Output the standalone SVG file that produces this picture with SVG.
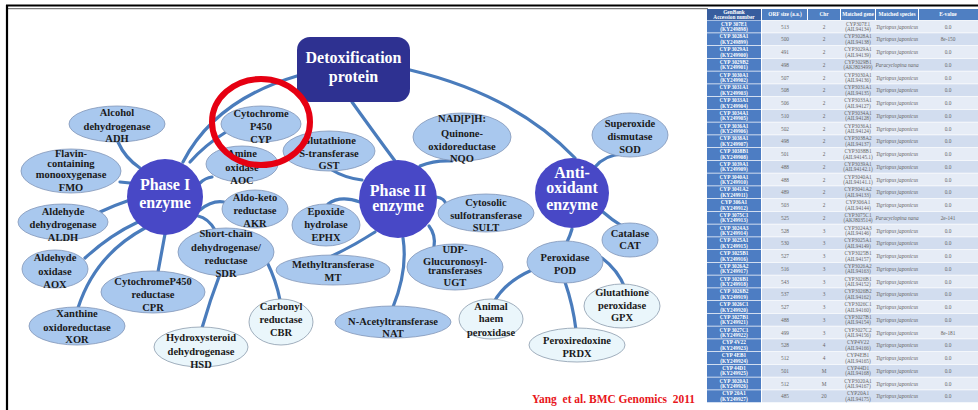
<svg xmlns="http://www.w3.org/2000/svg" width="978" height="410" viewBox="0 0 978 410">
<style>
.e{fill:#a9c8ee;stroke:#8196b8;stroke-width:0.8}
.l{fill:#eaf6fb;stroke:#8a9aac;stroke-width:0.8}
.t{font-family:"Liberation Serif",serif;font-weight:bold;font-size:10.5px;fill:#1a1a1a;text-anchor:middle}
.big{font-family:"Liberation Serif",serif;font-weight:bold;font-size:16px;fill:#ffffff;text-anchor:middle}
.c{fill:#4848c6}
#connectors path{fill:none;stroke:#4a7cbc;stroke-width:3.2;stroke-linecap:round}
.h1{fill:#375d9e}
.h2{fill:#4f7fc2}
.k{fill:#4d7dc3}
.ra{fill:#e6ecf6}
.rb{fill:#d2ddef}
.tw{font-family:"Liberation Serif",serif;font-weight:bold;font-size:5.3px;fill:#ffffff;text-anchor:middle}
.tg{font-family:"Liberation Serif",serif;font-size:5.3px;fill:#666;text-anchor:middle}
.ti{font-family:"Liberation Serif",serif;font-style:italic;font-size:5.3px;fill:#666;text-anchor:middle}
</style>
<rect width="978" height="410" fill="#ffffff"/>
<!-- frame -->
<line x1="6" y1="5.5" x2="978" y2="5.5" stroke="#000" stroke-width="2.2"/>
<line x1="8" y1="8.7" x2="708" y2="8.7" stroke="#333" stroke-width="0.8"/>
<line x1="7" y1="5" x2="7" y2="410" stroke="#000" stroke-width="2.2"/>

<g id="connectors">
<path d="M297,76 Q215,100 183,162"/>
<path d="M226,132 Q205,145 190,162"/>
<path d="M352,102 Q372,130 395,161"/>
<path d="M410,70 Q515,95 575,158"/>
<path d="M118,142 Q125,158 140,168"/>
<path d="M120,182 L130,183"/>
<path d="M100,212 Q115,205 130,200"/>
<path d="M85,258 Q110,235 138,222"/>
<path d="M78,308 Q95,255 145,228"/>
<path d="M158,272 Q162,250 165,234"/>
<path d="M200,210 Q212,200 224,202"/>
<path d="M198,216 Q208,218 215,230"/>
<path d="M200,183 Q205,178 212,177"/>
<path d="M220,274 Q210,300 202,328"/>
<path d="M267,262 Q276,280 280,300"/>
<path d="M332,170 Q345,178 362,180"/>
<path d="M420,166 Q435,160 452,161"/>
<path d="M328,204 Q340,195 360,202"/>
<path d="M436,197 Q445,198 446,205"/>
<path d="M375,232 Q355,245 332,256"/>
<path d="M403,238 Q408,270 393,307"/>
<path d="M429,226 Q436,235 434,247"/>
<path d="M595,167 Q605,155 622,154"/>
<path d="M603,212 Q612,220 622,226"/>
<path d="M572,229 Q570,236 567,242"/>
<path d="M532,270 Q505,282 494,302"/>
<path d="M565,282 Q573,305 576,330"/>
<path d="M602,258 Q618,270 625,288"/>
</g>

<g id="detox"><rect x="297" y="37" width="113" height="65" rx="13" fill="#2e3191"/>
<text class="big" x="353.5" y="63">Detoxification</text><text class="big" x="353.5" y="82">protein</text></g>
<g id="phase1"><circle class="c" cx="165" cy="197" r="38"/>
<text class="big" x="165" y="190">Phase I</text><text class="big" x="165" y="207.5">enzyme</text></g>
<g id="phase2"><circle class="c" cx="398" cy="199" r="39"/>
<text class="big" x="398" y="195.5">Phase II</text><text class="big" x="398" y="211">enzyme</text></g>
<g id="antioxidant"><ellipse class="c" cx="572" cy="193" rx="37" ry="35"/>
<text class="big" x="572" y="177.5">Anti-</text><text class="big" x="572" y="193">oxidant</text><text class="big" x="572" y="210">enzyme</text></g>

<g id="adh"><ellipse class="e" cx="117" cy="124" rx="48" ry="18"/>
<text class="t" x="117" y="115.5">Alcohol</text><text class="t" x="117" y="129.5">dehydrogenase</text><text class="t" x="117" y="141.5">ADH</text></g>
<g id="aoc"><ellipse class="e" cx="242" cy="164" rx="36" ry="18"/>
<text class="t" x="242" y="156.5">Amine</text><text class="t" x="242" y="170.5">oxidase</text><text class="t" x="242" y="183.5">AOC</text></g>
<g id="gst"><ellipse class="e" cx="329" cy="151" rx="46" ry="20"/>
<text class="t" x="329" y="143.5">Glutathione</text><text class="t" x="329" y="156.5">S-transferase</text><text class="t" x="329" y="168.5">GST</text></g>
<g id="cyp"><ellipse class="e" cx="261" cy="124" rx="40" ry="18"/>
<text class="t" x="261" y="116.5">Cytochrome</text><text class="t" x="261" y="129.5">P450</text><text class="t" x="261" y="142.5">CYP</text></g>
<g id="fmo"><ellipse class="e" cx="71" cy="171" rx="50" ry="22"/>
<text class="t" x="71" y="157">Flavin-</text><text class="t" x="71" y="166.5">containing</text><text class="t" x="71" y="178">monooxygenase</text><text class="t" x="71" y="190.5">FMO</text></g>
<g id="nqo"><ellipse class="e" cx="462" cy="137" rx="49" ry="24"/>
<text class="t" x="462" y="121.5">NAD[P]H:</text><text class="t" x="462" y="136.5">Quinone-</text><text class="t" x="462" y="149.5">oxidoreductase</text><text class="t" x="462" y="161.5">NQO</text></g>
<g id="sod"><ellipse class="e" cx="630" cy="135" rx="38" ry="22"/>
<text class="t" x="630" y="126.5">Superoxide</text><text class="t" x="630" y="139.5">dismutase</text><text class="t" x="630" y="152.5">SOD</text></g>
<g id="akr"><ellipse class="e" cx="255" cy="209" rx="33" ry="19"/>
<text class="t" x="255" y="200.5">Aldo-keto</text><text class="t" x="255" y="213.5">reductase</text><text class="t" x="255" y="226.5">AKR</text></g>
<g id="aldh"><ellipse class="e" cx="63" cy="222" rx="45" ry="18"/>
<text class="t" x="63" y="214.5">Aldehyde</text><text class="t" x="63" y="227.5">dehydrogenase</text><text class="t" x="63" y="240.5">ALDH</text></g>
<g id="aox"><ellipse class="e" cx="55" cy="269" rx="33" ry="19"/>
<text class="t" x="55" y="260.5">Aldehyde</text><text class="t" x="55" y="274.5">oxidase</text><text class="t" x="55" y="287.5">AOX</text></g>
<g id="sdr"><ellipse class="e" cx="226" cy="252" rx="48" ry="24"/>
<text class="t" x="226" y="236.5">Short-chain</text><text class="t" x="226" y="250.5">dehydrogenase/</text><text class="t" x="226" y="263.5">reductase</text><text class="t" x="226" y="276.5">SDR</text></g>
<g id="cpr"><ellipse class="e" cx="153" cy="292" rx="52" ry="21"/>
<text class="t" x="153" y="284.5">CytochromeP450</text><text class="t" x="153" y="297.5">reductase</text><text class="t" x="153" y="310.5">CPR</text></g>
<g id="xor"><ellipse class="e" cx="77" cy="326" rx="48" ry="19"/>
<text class="t" x="77" y="316.5">Xanthine</text><text class="t" x="77" y="330.5">oxidoreductase</text><text class="t" x="77" y="342.5">XOR</text></g>
<g id="cbr"><ellipse class="l" cx="281" cy="322" rx="32" ry="23"/>
<text class="t" x="281" y="309.5">Carbonyl</text><text class="t" x="281" y="322.5">reductase</text><text class="t" x="281" y="335.5">CBR</text></g>
<g id="hsd"><ellipse class="l" cx="201" cy="347" rx="47" ry="20"/>
<text class="t" x="201" y="340.5">Hydroxysteroid</text><text class="t" x="201" y="354.5">dehydrogenase</text><text class="t" x="201" y="367.5">HSD</text></g>
<g id="ephx"><ellipse class="e" cx="326" cy="225" rx="34" ry="21"/>
<text class="t" x="326" y="214.5">Epoxide</text><text class="t" x="326" y="227.5">hydrolase</text><text class="t" x="326" y="240.5">EPHX</text></g>
<g id="mt"><ellipse class="e" cx="333" cy="270" rx="57" ry="15"/>
<text class="t" x="333" y="267.5">Methyltransferase</text><text class="t" x="333" y="280.5">MT</text></g>
<g id="sult"><ellipse class="e" cx="486" cy="213" rx="48" ry="19"/>
<text class="t" x="486" y="205.5">Cytosolic</text><text class="t" x="486" y="218.5">sulfotransferase</text><text class="t" x="486" y="230.5">SULT</text></g>
<g id="ugt"><ellipse class="e" cx="455" cy="267" rx="48" ry="23"/>
<text class="t" x="455" y="253">UDP-</text><text class="t" x="455" y="264.5">Glucuronosyl-</text><text class="t" x="455" y="274">transferases</text><text class="t" x="455" y="286">UGT</text></g>
<g id="nat"><ellipse class="e" cx="393" cy="322" rx="58" ry="16"/>
<text class="t" x="393" y="324.5">N-Acetyltransferase</text><text class="t" x="393" y="336.5">NAT</text></g>
<g id="cat"><ellipse class="e" cx="630" cy="240" rx="28" ry="17"/>
<text class="t" x="630" y="236.5">Catalase</text><text class="t" x="630" y="248.5">CAT</text></g>
<g id="pod"><ellipse class="e" cx="565" cy="262" rx="38" ry="21"/>
<text class="t" x="565" y="260.5">Peroxidase</text><text class="t" x="565" y="273.5">POD</text></g>
<g id="gpx"><ellipse class="l" cx="622" cy="306" rx="38" ry="22"/>
<text class="t" x="622" y="295.5">Glutathione</text><text class="t" x="622" y="308.5">peroxidase</text><text class="t" x="622" y="320.5">GPX</text></g>
<g id="animal"><ellipse class="l" cx="491" cy="319" rx="32" ry="20"/>
<text class="t" x="491" y="309.5">Animal</text><text class="t" x="491" y="321.5">haem</text><text class="t" x="491" y="335.5">peroxidase</text></g>
<g id="prdx"><ellipse class="l" cx="577" cy="345" rx="48" ry="17"/>
<text class="t" x="577" y="343.5">Peroxiredoxine</text><text class="t" x="577" y="356.5">PRDX</text></g>

<ellipse id="highlight" cx="261" cy="122" rx="49" ry="43" fill="none" stroke="#e60012" stroke-width="6"/>

<text x="532" y="403" font-family="Liberation Serif, serif" font-weight="bold" font-size="12.5" fill="#e8161b" textLength="163" lengthAdjust="spacingAndGlyphs" xml:space="preserve">Yang  et al. BMC Genomics  2011</text>

<g id="table">
<rect class="h1" x="707" y="9" width="54" height="11"/>
<rect class="h2" x="762" y="9" width="45" height="11"/>
<rect class="h2" x="808" y="9" width="32" height="11"/>
<rect class="h2" x="841" y="9" width="34" height="11"/>
<rect class="h2" x="876" y="9" width="42" height="11"/>
<rect class="h2" x="919" y="9" width="59" height="11"/>
<text class="tw" x="734" y="13.8">GenBank</text><text class="tw" x="734" y="18.9">Accession number</text>
<text class="tw" x="785" y="16.3">ORF size (a.a.)</text>
<text class="tw" x="824" y="16.3">Chr</text>
<text class="tw" x="858" y="16.3">Matched gene</text>
<text class="tw" x="897" y="16.3">Matched species</text>
<text class="tw" x="948" y="16.3">E-value</text>

<g transform="translate(0,20.5)"><rect class="k" x="707" width="54" height="12"/><rect class="ra" x="762" width="216" height="12"/><text class="tw" x="734" y="5.2">CYP 307E1</text><text class="tw" x="734" y="10.7">(KY249898)</text><text class="tg" x="785" y="8">513</text><text class="tg" x="824" y="8">2</text><text class="tg" x="858" y="5.2">CYP307E1</text><text class="tg" x="858" y="10.7">(AIL94134)</text><text class="ti" x="897" y="8">Tigriopus japonicus</text><text class="tg" x="948" y="8">0.0</text></g>
<g transform="translate(0,33.25)"><rect class="k" x="707" width="54" height="12"/><rect class="rb" x="762" width="216" height="12"/><text class="tw" x="734" y="5.2">CYP 3028A1</text><text class="tw" x="734" y="10.7">(KY249899)</text><text class="tg" x="785" y="8">500</text><text class="tg" x="824" y="8">2</text><text class="tg" x="858" y="5.2">CYP3028A1</text><text class="tg" x="858" y="10.7">(AIL94138)</text><text class="ti" x="897" y="8">Tigriopus japonicus</text><text class="tg" x="948" y="8">8e-150</text></g>
<g transform="translate(0,46)"><rect class="k" x="707" width="54" height="12"/><rect class="ra" x="762" width="216" height="12"/><text class="tw" x="734" y="5.2">CYP 3029A1</text><text class="tw" x="734" y="10.7">(KY249900)</text><text class="tg" x="785" y="8">491</text><text class="tg" x="824" y="8">2</text><text class="tg" x="858" y="5.2">CYP3029A1</text><text class="tg" x="858" y="10.7">(AIL94139)</text><text class="ti" x="897" y="8">Tigriopus japonicus</text><text class="tg" x="948" y="8">0.0</text></g>
<g transform="translate(0,58.75)"><rect class="k" x="707" width="54" height="12"/><rect class="rb" x="762" width="216" height="12"/><text class="tw" x="734" y="5.2">CYP 3029B2</text><text class="tw" x="734" y="10.7">(KY249901)</text><text class="tg" x="785" y="8">498</text><text class="tg" x="824" y="8">2</text><text class="tg" x="858" y="5.2">CYP3029B1</text><text class="tg" x="858" y="10.7">(AKJ803499)</text><text class="ti" x="897" y="8">Paracyclopina nana</text><text class="tg" x="948" y="8">0.0</text></g>
<g transform="translate(0,71.5)"><rect class="k" x="707" width="54" height="12"/><rect class="ra" x="762" width="216" height="12"/><text class="tw" x="734" y="5.2">CYP 3030A1</text><text class="tw" x="734" y="10.7">(KY249902)</text><text class="tg" x="785" y="8">507</text><text class="tg" x="824" y="8">2</text><text class="tg" x="858" y="5.2">CYP3030A1</text><text class="tg" x="858" y="10.7">(AIL94136)</text><text class="ti" x="897" y="8">Tigriopus japonicus</text><text class="tg" x="948" y="8">0.0</text></g>
<g transform="translate(0,84.25)"><rect class="k" x="707" width="54" height="12"/><rect class="rb" x="762" width="216" height="12"/><text class="tw" x="734" y="5.2">CYP 3031A1</text><text class="tw" x="734" y="10.7">(KY249903)</text><text class="tg" x="785" y="8">508</text><text class="tg" x="824" y="8">2</text><text class="tg" x="858" y="5.2">CYP3031A1</text><text class="tg" x="858" y="10.7">(AIL94135)</text><text class="ti" x="897" y="8">Tigriopus japonicus</text><text class="tg" x="948" y="8">0.0</text></g>
<g transform="translate(0,97)"><rect class="k" x="707" width="54" height="12"/><rect class="ra" x="762" width="216" height="12"/><text class="tw" x="734" y="5.2">CYP 3033A1</text><text class="tw" x="734" y="10.7">(KY249904)</text><text class="tg" x="785" y="8">506</text><text class="tg" x="824" y="8">2</text><text class="tg" x="858" y="5.2">CYP3033A1</text><text class="tg" x="858" y="10.7">(AIL94127)</text><text class="ti" x="897" y="8">Tigriopus japonicus</text><text class="tg" x="948" y="8">0.0</text></g>
<g transform="translate(0,109.75)"><rect class="k" x="707" width="54" height="12"/><rect class="rb" x="762" width="216" height="12"/><text class="tw" x="734" y="5.2">CYP 3034A1</text><text class="tw" x="734" y="10.7">(KY249905)</text><text class="tg" x="785" y="8">510</text><text class="tg" x="824" y="8">2</text><text class="tg" x="858" y="5.2">CYP3034A1</text><text class="tg" x="858" y="10.7">(AIL94128)</text><text class="ti" x="897" y="8">Tigriopus japonicus</text><text class="tg" x="948" y="8">0.0</text></g>
<g transform="translate(0,122.5)"><rect class="k" x="707" width="54" height="12"/><rect class="ra" x="762" width="216" height="12"/><text class="tw" x="734" y="5.2">CYP 3036A1</text><text class="tw" x="734" y="10.7">(KY249906)</text><text class="tg" x="785" y="8">502</text><text class="tg" x="824" y="8">2</text><text class="tg" x="858" y="5.2">CYP3036A1</text><text class="tg" x="858" y="10.7">(AIL94124)</text><text class="ti" x="897" y="8">Tigriopus japonicus</text><text class="tg" x="948" y="8">0.0</text></g>
<g transform="translate(0,135.25)"><rect class="k" x="707" width="54" height="12"/><rect class="rb" x="762" width="216" height="12"/><text class="tw" x="734" y="5.2">CYP 3038A1</text><text class="tw" x="734" y="10.7">(KY249907)</text><text class="tg" x="785" y="8">498</text><text class="tg" x="824" y="8">2</text><text class="tg" x="858" y="5.2">CYP3038A2</text><text class="tg" x="858" y="10.7">(AIL94137)</text><text class="ti" x="897" y="8">Tigriopus japonicus</text><text class="tg" x="948" y="8">0.0</text></g>
<g transform="translate(0,148)"><rect class="k" x="707" width="54" height="12"/><rect class="ra" x="762" width="216" height="12"/><text class="tw" x="734" y="5.2">CYP 3038B1</text><text class="tw" x="734" y="10.7">(KY249908)</text><text class="tg" x="785" y="8">501</text><text class="tg" x="824" y="8">2</text><text class="tg" x="858" y="5.2">CYP3038B1</text><text class="tg" x="858" y="10.7">(AIL94145.1)</text><text class="ti" x="897" y="8">Tigriopus japonicus</text><text class="tg" x="948" y="8">0.0</text></g>
<g transform="translate(0,160.75)"><rect class="k" x="707" width="54" height="12"/><rect class="rb" x="762" width="216" height="12"/><text class="tw" x="734" y="5.2">CYP 3039A1</text><text class="tw" x="734" y="10.7">(KY249909)</text><text class="tg" x="785" y="8">488</text><text class="tg" x="824" y="8">2</text><text class="tg" x="858" y="5.2">CYP3039A1</text><text class="tg" x="858" y="10.7">(AIL94142.1)</text><text class="ti" x="897" y="8">Tigriopus japonicus</text><text class="tg" x="948" y="8">0.0</text></g>
<g transform="translate(0,173.5)"><rect class="k" x="707" width="54" height="12"/><rect class="ra" x="762" width="216" height="12"/><text class="tw" x="734" y="5.2">CYP 3040A1</text><text class="tw" x="734" y="10.7">(KY249910)</text><text class="tg" x="785" y="8">488</text><text class="tg" x="824" y="8">2</text><text class="tg" x="858" y="5.2">CYP3040A1</text><text class="tg" x="858" y="10.7">(AIL94141.1)</text><text class="ti" x="897" y="8">Tigriopus japonicus</text><text class="tg" x="948" y="8">0.0</text></g>
<g transform="translate(0,186.25)"><rect class="k" x="707" width="54" height="12"/><rect class="rb" x="762" width="216" height="12"/><text class="tw" x="734" y="5.2">CYP 3041A2</text><text class="tw" x="734" y="10.7">(KY249911)</text><text class="tg" x="785" y="8">489</text><text class="tg" x="824" y="8">2</text><text class="tg" x="858" y="5.2">CYP3041A2</text><text class="tg" x="858" y="10.7">(AIL94133)</text><text class="ti" x="897" y="8">Tigriopus japonicus</text><text class="tg" x="948" y="8">0.0</text></g>
<g transform="translate(0,199)"><rect class="k" x="707" width="54" height="12"/><rect class="ra" x="762" width="216" height="12"/><text class="tw" x="734" y="5.2">CYP 306A1</text><text class="tw" x="734" y="10.7">(KY249912)</text><text class="tg" x="785" y="8">503</text><text class="tg" x="824" y="8">2</text><text class="tg" x="858" y="5.2">CYP306A1</text><text class="tg" x="858" y="10.7">(AIL94144)</text><text class="ti" x="897" y="8">Tigriopus japonicus</text><text class="tg" x="948" y="8">0.0</text></g>
<g transform="translate(0,211.75)"><rect class="k" x="707" width="54" height="12"/><rect class="rb" x="762" width="216" height="12"/><text class="tw" x="734" y="5.2">CYP 3075C1</text><text class="tw" x="734" y="10.7">(KY249913)</text><text class="tg" x="785" y="8">525</text><text class="tg" x="824" y="8">2</text><text class="tg" x="858" y="5.2">CYP3075C1</text><text class="tg" x="858" y="10.7">(AKJ803514)</text><text class="ti" x="897" y="8">Paracyclopina nana</text><text class="tg" x="948" y="8">2e-141</text></g>
<g transform="translate(0,224.5)"><rect class="k" x="707" width="54" height="12"/><rect class="ra" x="762" width="216" height="12"/><text class="tw" x="734" y="5.2">CYP 3024A3</text><text class="tw" x="734" y="10.7">(KY249914)</text><text class="tg" x="785" y="8">528</text><text class="tg" x="824" y="8">3</text><text class="tg" x="858" y="5.2">CYP3024A3</text><text class="tg" x="858" y="10.7">(AIL94146)</text><text class="ti" x="897" y="8">Tigriopus japonicus</text><text class="tg" x="948" y="8">0.0</text></g>
<g transform="translate(0,237.25)"><rect class="k" x="707" width="54" height="12"/><rect class="rb" x="762" width="216" height="12"/><text class="tw" x="734" y="5.2">CYP 3025A1</text><text class="tw" x="734" y="10.7">(KY249915)</text><text class="tg" x="785" y="8">530</text><text class="tg" x="824" y="8">3</text><text class="tg" x="858" y="5.2">CYP3025A1</text><text class="tg" x="858" y="10.7">(AIL94149)</text><text class="ti" x="897" y="8">Tigriopus japonicus</text><text class="tg" x="948" y="8">0.0</text></g>
<g transform="translate(0,250)"><rect class="k" x="707" width="54" height="12"/><rect class="ra" x="762" width="216" height="12"/><text class="tw" x="734" y="5.2">CYP 3025B1</text><text class="tw" x="734" y="10.7">(KY249916)</text><text class="tg" x="785" y="8">527</text><text class="tg" x="824" y="8">3</text><text class="tg" x="858" y="5.2">CYP3025B1</text><text class="tg" x="858" y="10.7">(AIL94157)</text><text class="ti" x="897" y="8">Tigriopus japonicus</text><text class="tg" x="948" y="8">0.0</text></g>
<g transform="translate(0,262.75)"><rect class="k" x="707" width="54" height="12"/><rect class="rb" x="762" width="216" height="12"/><text class="tw" x="734" y="5.2">CYP 3026A2</text><text class="tw" x="734" y="10.7">(KY249917)</text><text class="tg" x="785" y="8">516</text><text class="tg" x="824" y="8">3</text><text class="tg" x="858" y="5.2">CYP3026A2</text><text class="tg" x="858" y="10.7">(AIL94163)</text><text class="ti" x="897" y="8">Tigriopus japonicus</text><text class="tg" x="948" y="8">0.0</text></g>
<g transform="translate(0,275.5)"><rect class="k" x="707" width="54" height="12"/><rect class="ra" x="762" width="216" height="12"/><text class="tw" x="734" y="5.2">CYP 3026B1</text><text class="tw" x="734" y="10.7">(KY249918)</text><text class="tg" x="785" y="8">543</text><text class="tg" x="824" y="8">3</text><text class="tg" x="858" y="5.2">CYP3026B1</text><text class="tg" x="858" y="10.7">(AIL94152)</text><text class="ti" x="897" y="8">Tigriopus japonicus</text><text class="tg" x="948" y="8">0.0</text></g>
<g transform="translate(0,288.25)"><rect class="k" x="707" width="54" height="12"/><rect class="rb" x="762" width="216" height="12"/><text class="tw" x="734" y="5.2">CYP 3026B2</text><text class="tw" x="734" y="10.7">(KY249919)</text><text class="tg" x="785" y="8">537</text><text class="tg" x="824" y="8">3</text><text class="tg" x="858" y="5.2">CYP3026B2</text><text class="tg" x="858" y="10.7">(AIL94162)</text><text class="ti" x="897" y="8">Tigriopus japonicus</text><text class="tg" x="948" y="8">0.0</text></g>
<g transform="translate(0,301)"><rect class="k" x="707" width="54" height="12"/><rect class="ra" x="762" width="216" height="12"/><text class="tw" x="734" y="5.2">CYP 3026C1</text><text class="tw" x="734" y="10.7">(KY249920)</text><text class="tg" x="785" y="8">527</text><text class="tg" x="824" y="8">3</text><text class="tg" x="858" y="5.2">CYP3026C1</text><text class="tg" x="858" y="10.7">(AIL94160)</text><text class="ti" x="897" y="8">Tigriopus japonicus</text><text class="tg" x="948" y="8">0.0</text></g>
<g transform="translate(0,313.75)"><rect class="k" x="707" width="54" height="12"/><rect class="rb" x="762" width="216" height="12"/><text class="tw" x="734" y="5.2">CYP 3027B1</text><text class="tw" x="734" y="10.7">(KY249921)</text><text class="tg" x="785" y="8">488</text><text class="tg" x="824" y="8">3</text><text class="tg" x="858" y="5.2">CYP3027B1</text><text class="tg" x="858" y="10.7">(AIL94154)</text><text class="ti" x="897" y="8">Tigriopus japonicus</text><text class="tg" x="948" y="8">0.0</text></g>
<g transform="translate(0,326.5)"><rect class="k" x="707" width="54" height="12"/><rect class="ra" x="762" width="216" height="12"/><text class="tw" x="734" y="5.2">CYP 3027C1</text><text class="tw" x="734" y="10.7">(KY249922)</text><text class="tg" x="785" y="8">499</text><text class="tg" x="824" y="8">3</text><text class="tg" x="858" y="5.2">CYP3027C2</text><text class="tg" x="858" y="10.7">(AIL94156)</text><text class="ti" x="897" y="8">Tigriopus japonicus</text><text class="tg" x="948" y="8">8e-181</text></g>
<g transform="translate(0,339.25)"><rect class="k" x="707" width="54" height="12"/><rect class="rb" x="762" width="216" height="12"/><text class="tw" x="734" y="5.2">CYP 4V22</text><text class="tw" x="734" y="10.7">(KY249923)</text><text class="tg" x="785" y="8">528</text><text class="tg" x="824" y="8">4</text><text class="tg" x="858" y="5.2">CYP4V22</text><text class="tg" x="858" y="10.7">(AIL94166)</text><text class="ti" x="897" y="8">Tigriopus japonicus</text><text class="tg" x="948" y="8">0.0</text></g>
<g transform="translate(0,352)"><rect class="k" x="707" width="54" height="12"/><rect class="ra" x="762" width="216" height="12"/><text class="tw" x="734" y="5.2">CYP 4EB1</text><text class="tw" x="734" y="10.7">(KY249924)</text><text class="tg" x="785" y="8">512</text><text class="tg" x="824" y="8">4</text><text class="tg" x="858" y="5.2">CYP4EB1</text><text class="tg" x="858" y="10.7">(AIL94165)</text><text class="ti" x="897" y="8">Tigriopus japonicus</text><text class="tg" x="948" y="8">0.0</text></g>
<g transform="translate(0,364.75)"><rect class="k" x="707" width="54" height="12"/><rect class="rb" x="762" width="216" height="12"/><text class="tw" x="734" y="5.2">CYP 44D1</text><text class="tw" x="734" y="10.7">(KY249925)</text><text class="tg" x="785" y="8">501</text><text class="tg" x="824" y="8">M</text><text class="tg" x="858" y="5.2">CYP44D1</text><text class="tg" x="858" y="10.7">(AIL94168)</text><text class="ti" x="897" y="8">Tigriopus japonicus</text><text class="tg" x="948" y="8">0.0</text></g>
<g transform="translate(0,377.5)"><rect class="k" x="707" width="54" height="12"/><rect class="ra" x="762" width="216" height="12"/><text class="tw" x="734" y="5.2">CYP 3020A1</text><text class="tw" x="734" y="10.7">(KY249926)</text><text class="tg" x="785" y="8">512</text><text class="tg" x="824" y="8">M</text><text class="tg" x="858" y="5.2">CYP3020A1</text><text class="tg" x="858" y="10.7">(AIL94167)</text><text class="ti" x="897" y="8">Tigriopus japonicus</text><text class="tg" x="948" y="8">0.0</text></g>
<g transform="translate(0,390.25)"><rect class="k" x="707" width="54" height="12"/><rect class="rb" x="762" width="216" height="12"/><text class="tw" x="734" y="5.2">CYP 20A1</text><text class="tw" x="734" y="10.7">(KY249927)</text><text class="tg" x="785" y="8">485</text><text class="tg" x="824" y="8">20</text><text class="tg" x="858" y="5.2">CYP20A1</text><text class="tg" x="858" y="10.7">(AIL94175)</text><text class="ti" x="897" y="8">Tigriopus japonicus</text><text class="tg" x="948" y="8">0.0</text></g>
</g>
</svg>
